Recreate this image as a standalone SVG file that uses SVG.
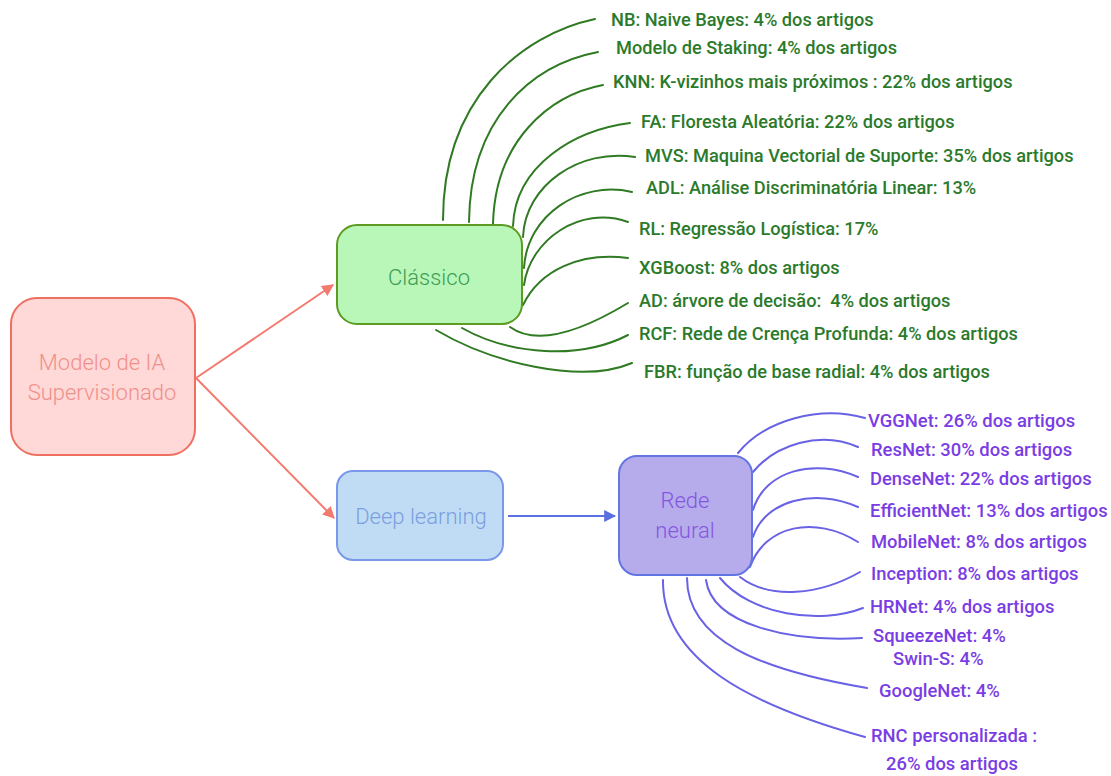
<svg xmlns="http://www.w3.org/2000/svg" width="1111" height="776" viewBox="0 0 1111 776">
<style>
.g{fill:none;stroke:#2f7a22;stroke-width:2;stroke-linecap:round}
.p{fill:none;stroke:#6a62e4;stroke-width:2;stroke-linecap:round}
.gt{font-family:Roboto,"Liberation Sans",sans-serif;font-size:18.2px;font-weight:500;fill:#2b7a2b}
.pt{font-family:Roboto,"Liberation Sans",sans-serif;font-size:18.4px;font-weight:500;fill:#7a3de4}
.nt{font-family:Roboto,"Liberation Sans",sans-serif;font-size:22px;font-weight:300;text-anchor:middle}
</style>
<defs>
<marker id="ar" viewBox="0 0 10 10" refX="9" refY="5" markerWidth="6" markerHeight="6" orient="auto" markerUnits="strokeWidth"><path d="M0,0 L10,5 L0,10 z" fill="#f27a6f"/></marker>
<marker id="ab" viewBox="0 0 10 10" refX="9" refY="5" markerWidth="6" markerHeight="6" orient="auto" markerUnits="strokeWidth"><path d="M0,0 L10,5 L0,10 z" fill="#5a6fe0"/></marker>
</defs>
<rect width="1111" height="776" fill="#ffffff"/>
<g id="connectors">
<line x1="196" y1="378" x2="333" y2="285" stroke="#f27a6f" stroke-width="2" marker-end="url(#ar)"/>
<line x1="196" y1="378" x2="334" y2="518" stroke="#f27a6f" stroke-width="2" marker-end="url(#ar)"/>
<line x1="508" y1="516" x2="615" y2="516" stroke="#5a6fe0" stroke-width="2" marker-end="url(#ab)"/>
<path class="g" d="M595,19 C520,35 443,100 443,220"/>
<path class="g" d="M598,52 C530,65 470,120 469,222"/>
<path class="g" d="M603,85 C550,95 495,140 493,224"/>
<path class="g" d="M630,123 C575,130 515,165 513,226"/>
<path class="g" d="M635,157 C580,148 525,185 523,237"/>
<path class="g" d="M632,192 C580,180 527,215 524,268"/>
<path class="g" d="M628,222 C580,205 530,240 524,285"/>
<path class="g" d="M628,258 C580,252 540,270 523,305"/>
<path class="g" d="M510,327 C535,345 575,335 628,303"/>
<path class="g" d="M462,328 C510,355 580,360 628,335"/>
<path class="g" d="M436,330 C490,362 580,385 632,363"/>
<path class="p" d="M865,418 C820,405 765,420 738,453"/>
<path class="p" d="M858,447 C820,430 775,445 753,472"/>
<path class="p" d="M858,477 C815,458 765,470 753,510"/>
<path class="p" d="M858,507 C815,488 765,500 753,537"/>
<path class="p" d="M858,542 C815,515 765,525 750,567"/>
<path class="p" d="M860,572 C820,595 770,600 740,577"/>
<path class="p" d="M863,608 C820,625 750,615 720,578"/>
<path class="p" d="M862,638 C790,642 712,625 706,580"/>
<path class="p" d="M867,688 C760,670 687,640 687,578"/>
<path class="p" d="M865,737 C750,705 662,660 663,580"/>
</g>
<g id="node-modelo">
<rect x="11" y="298" width="184" height="157" rx="26" fill="#ffd8d8" stroke="#ef6f60" stroke-width="2"/>
<text class="nt" x="102" y="370" fill="#f0908a">Modelo de IA</text>
<text class="nt" x="102" y="400" fill="#f0908a">Supervisionado</text>
</g>
<g id="node-classico">
<rect x="337" y="225" width="185" height="99" rx="20" fill="#b8f7b8" stroke="#5d9b22" stroke-width="2"/>
<text class="nt" x="429" y="285" fill="#3d9c55">Clássico</text>
</g>
<g id="node-deep">
<rect x="337" y="471" width="166" height="89" rx="16" fill="#c0dcf4" stroke="#7b97ea" stroke-width="2"/>
<text class="nt" x="421" y="524" fill="#7b9fe0">Deep learning</text>
</g>
<g id="node-rede">
<rect x="619" y="456" width="133" height="119" rx="18" fill="#b6acec" stroke="#6375e3" stroke-width="2"/>
<text class="nt" x="685" y="508" fill="#8456e0">Rede</text>
<text class="nt" x="685" y="538" fill="#8456e0">neural</text>
</g>
<g id="classico-labels">
<text class="gt" x="611" y="26">NB: Naive Bayes: 4% dos artigos</text>
<text class="gt" x="616" y="54">Modelo de Staking: 4% dos artigos</text>
<text class="gt" x="613" y="88">KNN: K-vizinhos mais próximos : 22% dos artigos</text>
<text class="gt" x="641" y="128">FA: Floresta Aleatória: 22% dos artigos</text>
<text class="gt" x="645" y="162">MVS: Maquina Vectorial de Suporte: 35% dos artigos</text>
<text class="gt" x="646" y="194">ADL: Análise Discriminatória Linear: 13%</text>
<text class="gt" x="639" y="235">RL: Regressão Logística: 17%</text>
<text class="gt" x="639" y="274">XGBoost: 8% dos artigos</text>
<text class="gt" x="639" y="307">AD: árvore de decisão: &#160;4% dos artigos</text>
<text class="gt" x="639" y="340">RCF: Rede de Crença Profunda: 4% dos artigos</text>
<text class="gt" x="644" y="378">FBR: função de base radial: 4% dos artigos</text>
</g>
<g id="rede-labels">
<text class="pt" x="868" y="427">VGGNet: 26% dos artigos</text>
<text class="pt" x="871" y="456">ResNet: 30% dos artigos</text>
<text class="pt" x="870" y="485">DenseNet: 22% dos artigos</text>
<text class="pt" x="870" y="517">EfficientNet: 13% dos artigos</text>
<text class="pt" x="871" y="548">MobileNet: 8% dos artigos</text>
<text class="pt" x="871" y="580">Inception: 8% dos artigos</text>
<text class="pt" x="870" y="613">HRNet: 4% dos artigos</text>
<text class="pt" x="873" y="642">SqueezeNet: 4%</text>
<text class="pt" x="893" y="665">Swin-S: 4%</text>
<text class="pt" x="879" y="697">GoogleNet: 4%</text>
<text class="pt" x="871" y="742">RNC personalizada :</text>
<text class="pt" x="886" y="770">26% dos artigos</text>
</g>
</svg>
